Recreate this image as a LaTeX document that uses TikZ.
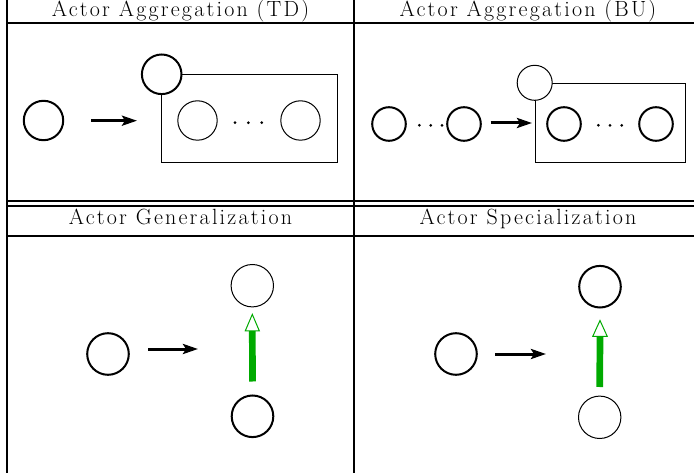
\documentclass[tikz,border=0pt]{standalone}
\usepackage{fontspec}
\usetikzlibrary{arrows.meta,calc}
\definecolor{genarrow}{RGB}{0,170,0}
\newfontfamily\headfont[LetterSpace=10]{Latin Modern Roman}
\tikzset{
  heavyactor/.style={circle,draw,line width=2pt,fill=white,inner sep=0pt},
  lightactor/.style={circle,draw,line width=1pt,fill=white,inner sep=0pt},
  rule/.style={line width=2pt},
  headtext/.style={anchor=base,inner sep=0pt,
    font=\headfont\fontsize{22}{26}\selectfont},
  maps/.style={line width=3pt,-{Stealth[length=15pt,width=10pt,inset=3pt]}},
  group/.style={draw,line width=1pt},
  dot/.style={circle,fill,inner sep=0pt,minimum size=3pt},
  isashaft/.style={line width=6.7pt,draw=genarrow},
  isahead/.style={draw=genarrow,line width=1pt,fill=white,line join=miter},
}
\begin{document}
\begin{tikzpicture}[x=1pt,y=-1pt]
\useasboundingbox (0,0) rectangle (694,473);

% table frame
\draw[rule] (7,-5) -- (7,478);
\draw[rule] (354,-5) -- (354,478);
\draw[rule] (6,23) -- (699,23);
\draw[line width=1.6pt] (6,201) -- (699,201);
\draw[line width=2.4pt] (6,205.8) -- (699,205.8);
\draw[rule] (6,236) -- (699,236);

% headers
\node[headtext] (h1) at (180.5,16.5) {Actor Aggregation (TD)};
\node[headtext] (h2) at (528,16.5) {Actor Aggregation (BU)};
\node[headtext] (h3) at (180.5,225) {Actor Generalization};
\node[headtext] (h4) at (528,225) {Actor Specialization};

% ---- aggregation, top-down
\node[heavyactor,minimum size=39.4pt] (td0) at (43.5,120.5) {};
\coordinate (tdas) at (91,120.7);
\coordinate (tdae) at (137,120.7);
\draw[maps] (tdas) -- (tdae);
\node[lightactor,minimum size=39.4pt] (td1) at (197.5,120.5) {};
\node[lightactor,minimum size=39.4pt] (td2) at (300.5,120.5) {};
\node[dot] (tdd1) at (235,122.7) {};
\node[dot] (tdd2) at (248.3,122.7) {};
\node[dot] (tdd3) at (261.7,122.7) {};
\coordinate (tdbox1) at (161.7,74.3);
\coordinate (tdbox2) at (337.7,162.7);
\draw[group] (tdbox1) rectangle (tdbox2);
\node[heavyactor,minimum size=39.6pt] (tdw) at (tdbox1) {};

% ---- aggregation, bottom-up
\node[heavyactor,minimum size=33.6pt] (bu0) at (389,124) {};
\node[heavyactor,minimum size=33.6pt] (bu1) at (464,124) {};
\node[dot] (bud1) at (419.3,125.3) {};
\node[dot] (bud2) at (430.7,125.3) {};
\node[dot] (bud3) at (442,125.3) {};
\coordinate (buas) at (490.7,123);
\coordinate (buae) at (532,123);
\draw[maps] (buas) -- (buae);
\coordinate (bubox1) at (535,83.3);
\coordinate (bubox2) at (685,162.7);
\draw[group] (bubox1) rectangle (bubox2);
\node[lightactor,minimum size=35pt] (buw) at (534.7,82.8) {};
\node[heavyactor,minimum size=33.6pt] (bu2) at (564,124) {};
\node[heavyactor,minimum size=33.6pt] (bu3) at (656,124) {};
\node[dot] (bud4) at (598.3,125.3) {};
\node[dot] (bud5) at (610,125.3) {};
\node[dot] (bud6) at (621.7,125.3) {};

% ---- generalization
\node[heavyactor,minimum size=41.6pt] (ge0) at (108,354) {};
\coordinate (geas) at (148,349);
\coordinate (geae) at (198,349);
\draw[maps] (geas) -- (geae);
\node[lightactor,minimum size=42.4pt] (getop) at (252.3,285.7) {};
\node[heavyactor,minimum size=41.6pt] (gebot) at (252.5,416.3) {};
\coordinate (getip) at ($(getop.south)+(0,7)$);
\coordinate (gebase) at ($(getip)+(0,16.4)$);
\coordinate (gefoot) at ($(gebot.north)+(0,-13)$);
\draw[isashaft] (gefoot) -- (gebase);
\draw[isahead] ($(gebase)+(-7,0)$) -- (getip) -- ($(gebase)+(7,0)$) -- cycle;

% ---- specialization
\node[heavyactor,minimum size=41.6pt] (sp0) at (456,354) {};
\coordinate (spas) at (495,354);
\coordinate (spae) at (546,354);
\draw[maps] (spas) -- (spae);
\node[heavyactor,minimum size=41.6pt] (sptop) at (600,286.7) {};
\node[lightactor,minimum size=42.4pt] (spbot) at (599.7,417.3) {};
\coordinate (sptip) at ($(sptop.south)+(0,12)$);
\coordinate (spbase) at ($(sptip)+(0,16)$);
\coordinate (spfoot) at ($(spbot.north)+(0,-8.6)$);
\draw[isashaft] (spfoot) -- (spbase);
\draw[isahead] ($(spbase)+(-7.3,0)$) -- (sptip) -- ($(spbase)+(7.3,0)$) -- cycle;
\end{tikzpicture}
\end{document}
